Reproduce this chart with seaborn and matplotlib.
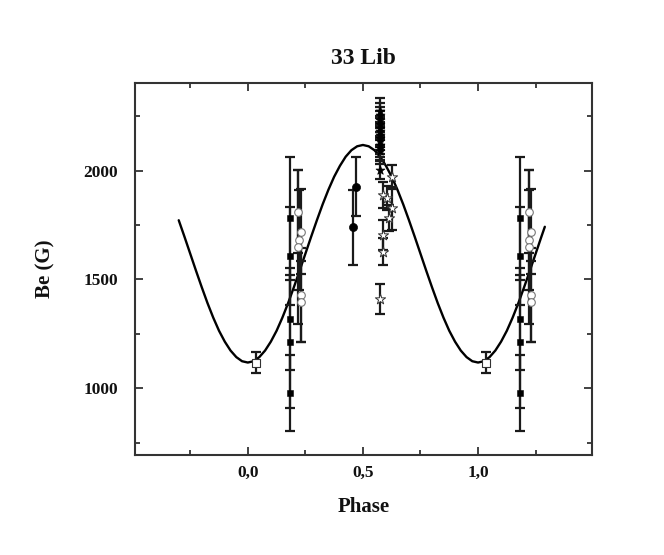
# Libraries
import pandas as pd
import matplotlib
matplotlib.use("Agg")
import matplotlib.pyplot as plt
import seaborn as sns
from matplotlib.ticker import MultipleLocator, FuncFormatter

# Data

# fitted curve (phase step 0.025)
curve_phase = [-0.300, -0.275, -0.250, -0.225, -0.200, -0.175, -0.150, -0.125,
               -0.100, -0.075, -0.050, -0.025, 0.000, 0.025, 0.050, 0.075,
               0.100, 0.125, 0.150, 0.175, 0.200, 0.225, 0.250, 0.275,
               0.300, 0.325, 0.350, 0.375, 0.400, 0.425, 0.450, 0.475,
               0.500, 0.525, 0.550, 0.575, 0.600, 0.625, 0.650, 0.675,
               0.700, 0.725, 0.750, 0.775, 0.800, 0.825, 0.850, 0.875,
               0.900, 0.925, 0.950, 0.975, 1.000, 1.025, 1.050, 1.075,
               1.100, 1.125, 1.150, 1.175, 1.200, 1.225, 1.250, 1.275, 1.290]
curve_be = [1772, 1696, 1618, 1540, 1464, 1391, 1324, 1264,
            1214, 1173, 1143, 1124, 1118, 1124, 1143, 1173,
            1214, 1264, 1324, 1391, 1464, 1540, 1618, 1696,
            1772, 1845, 1912, 1972, 2022, 2064, 2094, 2112,
            2118, 2112, 2094, 2064, 2022, 1972, 1912, 1845,
            1772, 1696, 1618, 1540, 1464, 1391, 1324, 1264,
            1214, 1173, 1143, 1124, 1118, 1124, 1143, 1173,
            1214, 1264, 1324, 1391, 1464, 1540, 1618, 1696, 1742]

# filled squares
fsq_phase = [0.183, 0.183, 0.183, 0.183, 0.183]
fsq_be = [1781, 1608, 1317, 1214, 977]
fsq_err = [283, 224, 234, 307, 175]

# open squares
osq_phase = [0.036]
osq_be = [1118]
osq_err = [48]

# open circles
oc_phase = [0.220, 0.232, 0.222, 0.220, 0.230, 0.232]
oc_be = [1812, 1720, 1682, 1648, 1429, 1398]
oc_err = [191, 195, 230, 355, 215, 185]

# filled circles
fc_phase = [0.470, 0.459]
fc_be = [1927, 1740]
fc_err = [137, 173]

# filled stars (dense group near phase 0.58)
fst_phase = [0.575, 0.574, 0.576, 0.575, 0.574, 0.576, 0.575, 0.574,
             0.576, 0.575, 0.574, 0.576, 0.575]
fst_be = [2275, 2255, 2235, 2215, 2195, 2180, 2165, 2150,
          2135, 2120, 2105, 2090, 2003]
fst_err = [60, 55, 58, 60, 55, 60, 58, 55, 60, 58, 55, 60, 40]

# open stars
ost_phase = [0.628, 0.585, 0.605, 0.628, 0.615, 0.585, 0.585, 0.575]
ost_be = [1972, 1888, 1873, 1827, 1781, 1705, 1628, 1410]
ost_err = [55, 60, 55, 100, 60, 70, 62, 68]


def make_df(ph, be, err):
    # points with phase < 0.3 are shown again one cycle later
    df = pd.DataFrame({"phase": ph, "be": be, "err": err})
    extra = df[df["phase"] < 0.3].copy()
    extra["phase"] = extra["phase"] + 1
    return pd.concat([df, extra], ignore_index=True)


groups = [
    (make_df(fsq_phase, fsq_be, fsq_err), dict(marker="s", color="black", edgecolor="black", s=22)),
    (make_df(osq_phase, osq_be, osq_err), dict(marker="s", color="white", edgecolor="#333333", s=30, linewidth=0.8)),
    (make_df(oc_phase, oc_be, oc_err), dict(marker="o", color="white", edgecolor="#777777", s=30, linewidth=0.8)),
    (make_df(fc_phase, fc_be, fc_err), dict(marker="o", color="black", edgecolor="black", s=34)),
    (make_df(fst_phase, fst_be, fst_err), dict(marker="*", color="black", edgecolor="black", s=45)),
    (make_df(ost_phase, ost_be, ost_err), dict(marker="*", color="white", edgecolor="#333333", s=60, linewidth=0.7)),
]

# Plot
sns.set_theme(style="ticks")
plt.rcParams["font.family"] = ["Liberation Serif", "DejaVu Serif"]
plt.rcParams["font.weight"] = "bold"
plt.rcParams["text.color"] = "#111111"
plt.rcParams["axes.labelcolor"] = "#111111"
plt.rcParams["xtick.labelcolor"] = "#111111"
plt.rcParams["ytick.labelcolor"] = "#111111"

fig = plt.figure(figsize=(6.64, 5.55), dpi=100)
ax = fig.add_axes([0.2033, 0.1802, 0.6883, 0.6703])

sns.lineplot(x=curve_phase, y=curve_be, color="black", linewidth=1.7, ax=ax, zorder=2)

for df, style in groups:
    ax.errorbar(df["phase"], df["be"], yerr=df["err"], fmt="none", ecolor="#1a1a1a",
                elinewidth=1.6, capsize=3.8, capthick=1.6, zorder=3)
for df, style in groups:
    sns.scatterplot(data=df, x="phase", y="be", ax=ax, zorder=4, legend=False, **style)

ax.set_xlim(-0.49, 1.495)
ax.set_ylim(693, 2403)
ax.xaxis.set_major_locator(MultipleLocator(0.5))
ax.xaxis.set_minor_locator(MultipleLocator(0.25))
ax.yaxis.set_major_locator(MultipleLocator(500))
ax.yaxis.set_minor_locator(MultipleLocator(250))
ax.xaxis.set_major_formatter(FuncFormatter(lambda v, p: f"{v:.1f}".replace(".", ",")))

ax.tick_params(which="both", direction="in", top=True, right=True, color="#333333", width=1.3)
ax.tick_params(which="major", length=5.5)
ax.tick_params(which="minor", length=3.5)
ax.tick_params(axis="x", which="major", labelsize=12.5, pad=7)
ax.tick_params(axis="y", which="major", labelsize=12.5, pad=12)
for lab in ax.get_xticklabels() + ax.get_yticklabels():
    lab.set_fontweight("bold")
for sp in ax.spines.values():
    sp.set_linewidth(1.5)
    sp.set_color("#333333")

ax.set_title("33 Lib", fontsize=17, fontweight="bold", pad=14)
ax.set_xlabel("Phase", fontsize=15, fontweight="bold", labelpad=12)
ax.set_ylabel("Be (G)", fontsize=15, fontweight="bold", labelpad=20)

fig.savefig("out.png", dpi=100, facecolor="white")
